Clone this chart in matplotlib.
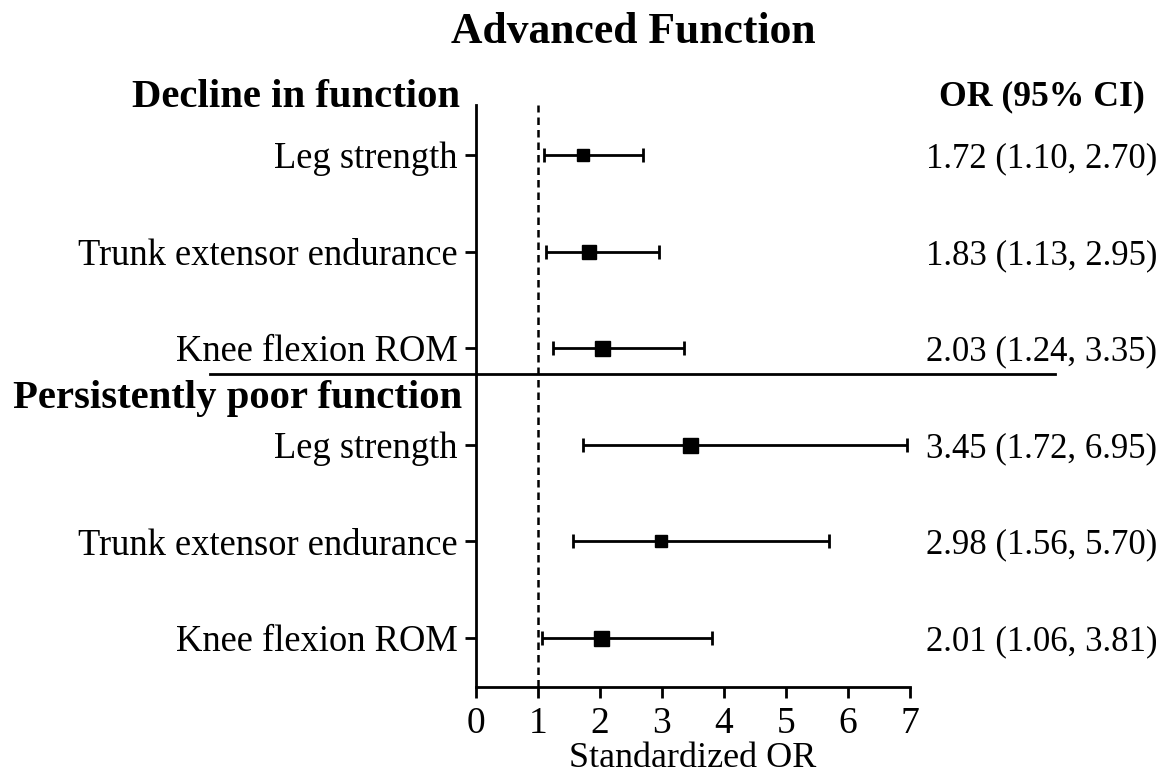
import matplotlib
matplotlib.use("Agg")
import matplotlib.pyplot as plt
import matplotlib.transforms as mtransforms

plt.rcParams['font.family'] = ['Liberation Serif', 'DejaVu Serif']

# ---- data ----
outcomes = ["Leg strength", "Trunk extensor endurance", "Knee flexion ROM",
            "Leg strength", "Trunk extensor endurance", "Knee flexion ROM"]
groups = ["Decline in function", "Persistently poor function"]
odds_ratio = [1.72, 1.83, 2.03, 3.45, 2.98, 2.01]
ci_low = [1.10, 1.13, 1.24, 1.72, 1.56, 1.06]
ci_high = [2.70, 2.95, 3.35, 6.95, 5.70, 3.81]
x_ticks = [0, 1, 2, 3, 4, 5, 6, 7]
title = "Advanced Function"
x_label = "Standardized OR"
col_header = "OR (95% CI)"

# ---- style ----
marker_px = [12, 14.5, 15, 15, 11.5, 15]

fig = plt.figure(figsize=(11.7, 7.73), dpi=100)
ax = fig.add_axes([476/1170, 1-687/773, (910-476)/1170, (687-105)/773])

rows = list(range(1, len(outcomes) + 1))
for y, orv, lo, hi, ms in zip(rows, odds_ratio, ci_low, ci_high, marker_px):
    ax.errorbar(orv, y, xerr=[[orv - lo], [hi - orv]], fmt='none', ecolor='black',
                elinewidth=2, capsize=5, capthick=2)
    ax.plot(orv, y, marker='s', color='black', markersize=ms * 72 / 100, linestyle='none')

ax.set_xlim(0, 7)
ax.set_ylim(6.51, 0.48)
ax.axvline(1, color='black', linestyle=(0, (3, 2)), linewidth=1.8)

ax.set_xticks(x_ticks)
ax.set_xticklabels([str(t) for t in x_ticks], fontsize=27)
ax.set_yticks(rows)
ax.set_yticklabels(outcomes, fontsize=26.3)
ax.tick_params(axis='both', direction='out', length=8, width=2, pad=5)
ax.tick_params(axis='x', pad=6)
ax.set_xlabel(x_label, fontsize=26, labelpad=1)
for s in ['top', 'right']:
    ax.spines[s].set_visible(False)
for s in ['left', 'bottom']:
    ax.spines[s].set_linewidth(2)

# separator line between groups
trans_fig_x = mtransforms.blended_transform_factory(fig.transFigure, ax.transData)
sep_y = 3.27
ax.plot([210/1170, 1055/1170], [sep_y, sep_y], color='black', linewidth=2,
        transform=trans_fig_x, clip_on=False)

# group headers
ax.text(460/1170, 0.40, groups[0], transform=trans_fig_x, ha='right', va='center',
        fontsize=29.3, fontweight='bold', clip_on=False)
ax.text(462/1170, 3.52, groups[1], transform=trans_fig_x, ha='right', va='center',
        fontsize=29.3, fontweight='bold', clip_on=False)

# OR column
ax.text(1042/1170, 0.40, col_header, transform=trans_fig_x, ha='center', va='center',
        fontsize=25.7, fontweight='bold', clip_on=False)
for y, orv, lo, hi in zip(rows, odds_ratio, ci_low, ci_high):
    ax.text(1157/1170, y, f"{orv:.2f} ({lo:.2f}, {hi:.2f})", transform=trans_fig_x,
            ha='right', va='center_baseline', fontsize=25, clip_on=False)

fig.text(633/1170, 1 - 32/773, title, ha='center', va='center', fontsize=31.4,
         fontweight='bold')

fig.savefig("out.png", dpi=100)
